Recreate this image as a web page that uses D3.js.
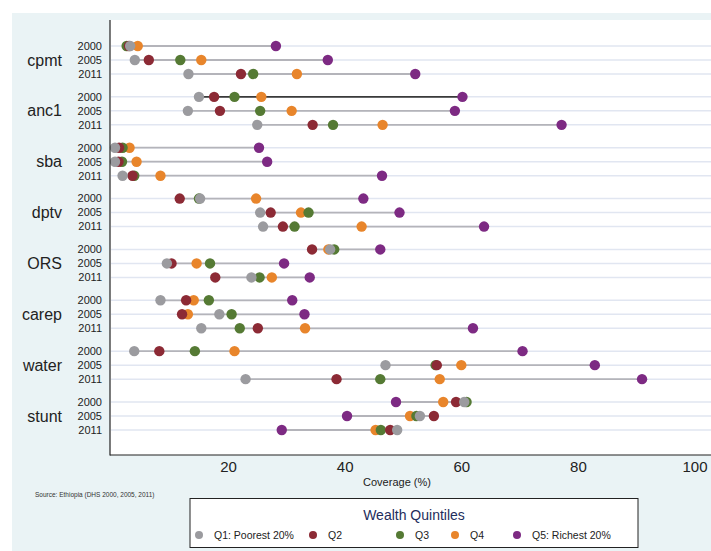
<!DOCTYPE html>
<html>
<head>
<meta charset="utf-8">
<script src="https://cdn.jsdelivr.net/npm/d3@7"></script>
<style>
  html, body { margin: 0; padding: 0; background: #ffffff; }
  svg { display: block; font-family: Arial, "Liberation Sans", Helvetica, sans-serif; }
</style>
</head>
<body>
<svg id="chart" width="711" height="551"></svg>
<script>
// Coverage indicators by survey year, Ethiopia DHS, by wealth quintile (%)
const indicators = ["cpmt", "anc1", "sba", "dptv", "ORS", "carep", "water", "stunt"];
const years = ["2000", "2005", "2011"];

// One value per indicator-year row, in the order above (indicator major, year minor)
const q1 = [3.2, 4.0, 13.2,  15.0, 13.1, 25.0,  0.6, 0.6, 1.9,  15.2, 25.5, 26.0,  37.5, 9.5, 24.0,  8.4, 18.5, 15.4,  3.9, 47.0, 23.0,  60.5, 52.9, 49.0];
const q2 = [3.0, 6.4, 22.2,  17.6, 18.6, 34.5,  1.3, 1.2, 3.6,  11.7, 27.3, 29.4,  34.4, 10.3, 17.8,  12.8, 12.1, 25.1,  8.2, 55.8, 38.6,  59.1, 55.3, 47.8];
const q3 = [2.6, 11.8, 24.3, 21.1, 25.5, 38.0,  1.9, 1.8, 3.9,  15.0, 33.8, 31.4,  38.2, 16.9, 25.4,  16.7, 20.6, 22.0,  14.3, 55.6, 46.1, 60.9, 52.3, 46.2];
const q4 = [4.5, 15.4, 31.8, 25.7, 30.9, 46.5,  3.1, 4.3, 8.4,  24.8, 32.5, 42.9,  37.2, 14.6, 27.5,  14.1, 13.1, 33.2,  21.1, 60.0, 56.3, 56.9, 51.2, 45.3];
const q5 = [28.2, 37.1, 52.1, 60.2, 58.9, 77.2, 25.3, 26.7, 46.4, 43.2, 49.4, 63.9, 46.1, 29.6, 34.0, 31.0, 33.1, 62.0, 70.5, 82.9, 91.0, 48.8, 40.4, 29.2];

const quintileNames = ["Q1: Poorest 20%", "Q2", "Q3", "Q4", "Q5: Richest 20%"];
const quintileColors = ["#9b9b9f", "#8c2a35", "#557a34", "#e8852b", "#7d2a83"];
const xTicks = [20, 40, 60, 80, 100];

const quintileValues = [q1, q2, q3, q4, q5];

// Rows: one per indicator and year
const rows = [];
indicators.forEach((ind, gi) => {
  years.forEach((yr, yi) => {
    const i = gi * years.length + yi;
    rows.push({ ind, yr, values: quintileValues.map(arr => arr[i]) });
  });
});

const svg = d3.select("#chart");

// Backgrounds
svg.append("rect").attr("x", 12).attr("y", 13).attr("width", 699).attr("height", 538).attr("fill", "#eaf3f5");
svg.append("rect").attr("x", 110).attr("y", 20).attr("width", 601).attr("height", 435).attr("fill", "#ffffff");

// Scales
const x = d3.scaleLinear().domain([0, 100]).range([111.5, 694.5]);
const yGroup = d3.scalePoint().domain(indicators).range([60, 416]);
const yYear = d3.scalePoint().domain(years).range([-14, 14]);
const rowY = r => yGroup(r.ind) + yYear(r.yr);

const plot = svg.append("g");

// Row guide lines
plot.selectAll("line.grid").data(rows).join("line")
  .attr("class", "grid")
  .attr("x1", 111).attr("x2", 711)
  .attr("y1", rowY).attr("y2", rowY)
  .attr("stroke", "#e1e6f1").attr("stroke-width", 1.5);

// Range lines from the lowest to the highest quintile
plot.selectAll("line.range").data(rows).join("line")
  .attr("class", "range")
  .attr("x1", r => x(d3.min(r.values)))
  .attr("x2", r => x(d3.max(r.values)))
  .attr("y1", rowY).attr("y2", rowY)
  .attr("stroke", r => (r.ind === "anc1" && r.yr === "2000") ? "#3a3a3a" : "#b4b4ba")
  .attr("stroke-width", 1.8);

// Quintile dots, richest drawn first so the poorer quintiles sit on top
rows.forEach(r => {
  const pts = r.values.map((v, qi) => ({ v, qi })).reverse();
  plot.append("g").selectAll("circle").data(pts).join("circle")
    .attr("cx", d => x(d.v))
    .attr("cy", rowY(r))
    .attr("r", 5.2)
    .attr("fill", d => quintileColors[d.qi]);
});

// Axes lines
svg.append("line").attr("x1", 110).attr("x2", 110).attr("y1", 20).attr("y2", 455.5)
  .attr("stroke", "#222").attr("stroke-width", 1.2);
svg.append("line").attr("x1", 110).attr("x2", 711).attr("y1", 455).attr("y2", 455)
  .attr("stroke", "#222").attr("stroke-width", 1.2);

// X axis tick labels
const xAxis = d3.axisBottom(x).tickValues(xTicks).tickSize(0).tickPadding(6).tickFormat(d3.format("d"));
const xg = svg.append("g").attr("transform", "translate(0,455)").call(xAxis);
xg.select(".domain").remove();
xg.selectAll("text").attr("font-size", 15).attr("fill", "#222")
  .attr("font-family", "Arial, 'Liberation Sans', sans-serif");

svg.append("text").attr("x", 397).attr("y", 486).attr("text-anchor", "middle")
  .attr("font-size", 11).attr("fill", "#222").text("Coverage (%)");

// Y labels: indicators and years
svg.append("g").selectAll("text").data(indicators).join("text")
  .attr("x", 62).attr("y", d => yGroup(d)).attr("dy", "0.35em")
  .attr("text-anchor", "end").attr("font-size", 16).attr("fill", "#222").text(d => d);

svg.append("g").selectAll("text").data(rows).join("text")
  .attr("x", 102).attr("y", rowY).attr("dy", "0.35em")
  .attr("text-anchor", "end").attr("font-size", 11).attr("fill", "#222").text(r => r.yr);

// Source note
svg.append("text").attr("x", 35).attr("y", 497).attr("font-size", 6.5).attr("fill", "#333")
  .text("Source: Ethiopia (DHS 2000, 2005, 2011)");

// Legend
const lg = svg.append("g");
lg.append("rect").attr("x", 190).attr("y", 498.5).attr("width", 448).attr("height", 49)
  .attr("fill", "#ffffff").attr("stroke", "#222").attr("stroke-width", 1);
lg.append("text").attr("x", 414).attr("y", 520).attr("text-anchor", "middle")
  .attr("font-size", 14).attr("fill", "#1e2d5c").text("Wealth Quintiles");
const legendX = [199, 313, 400, 455, 517];
const items = lg.selectAll("g.item").data(quintileNames).join("g").attr("class", "item")
  .attr("transform", (d, i) => `translate(${legendX[i]},535)`);
items.append("circle").attr("r", 4).attr("fill", (d, i) => quintileColors[i]);
items.append("text").attr("x", 15).attr("dy", "0.35em").attr("font-size", 10.5)
  .attr("fill", "#222").text(d => d);
</script>
</body>
</html>
